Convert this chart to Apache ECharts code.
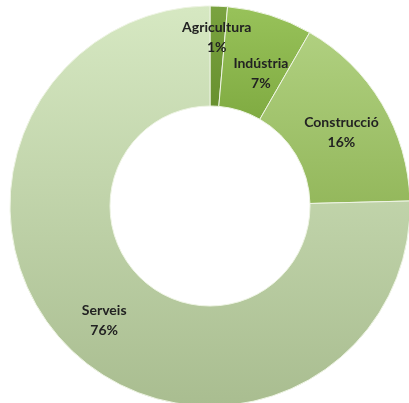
<!DOCTYPE html>
<html>
<head>
<meta charset="utf-8">
<script src="https://cdn.jsdelivr.net/npm/echarts@6/dist/echarts.min.js"></script>
<style>
  html, body { margin: 0; padding: 0; background: #fff; }
  #chart { width: 409px; height: 403px; }
</style>
</head>
<body>
<div id="chart"></div>
<script>
// sectors and their share (labels are rounded)
var sectors = ['Agricultura', 'Indústria', 'Construcció', 'Serveis'];
var shares = [1.4, 6.9, 16.3, 75.4];

// look of each slice
var sliceColors = [
  ['#7aa340', '#68902f'],
  ['#98c25a', '#80ab42'],
  ['#b0d080', '#94b85c'],
  ['#d6e8c2', '#a9bd90']
];
var labelOffsets = [[0, -16], [5, 13], [0, 5], [1, 5]];

var chart = echarts.init(document.getElementById('chart'));

var pieData = sectors.map(function (name, i) {
  return {
    name: name,
    value: shares[i],
    itemStyle: {
      color: {
        type: 'linear', x: 0, y: 0, x2: 0, y2: 1,
        colorStops: [
          { offset: 0, color: sliceColors[i][0] },
          { offset: 1, color: sliceColors[i][1] }
        ]
      }
    },
    label: { offset: labelOffsets[i] }
  };
});

chart.setOption({
  animation: false,
  series: [{
    type: 'pie',
    center: [210, 206],
    radius: [100, 200],
    startAngle: 90,
    clockwise: true,
    percentPrecision: 0,
    avoidLabelOverlap: false,
    labelLayout: { hideOverlap: false },
    itemStyle: {
      borderColor: '#eef4e4',
      borderWidth: 1
    },
    label: {
      show: true,
      position: 'inside',
      formatter: '{b}\n{d}%',
      fontFamily: 'Lato',
      fontWeight: 'bold',
      fontSize: 14,
      lineHeight: 20,
      color: '#222'
    },
    labelLine: { show: false },
    data: pieData
  }]
});
</script>
</body>
</html>
